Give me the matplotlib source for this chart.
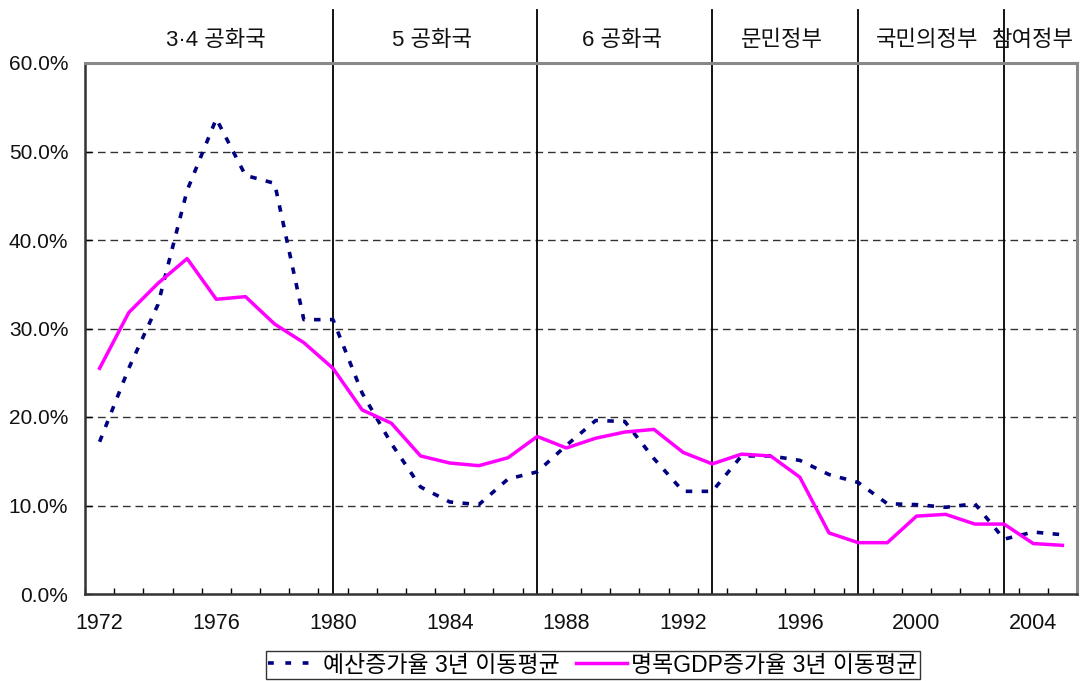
import matplotlib
matplotlib.use("Agg")
import matplotlib.pyplot as plt
from matplotlib.ticker import FixedLocator, FuncFormatter
from matplotlib.lines import Line2D

plt.rcParams['font.family'] = ['Liberation Sans', 'Noto Sans CJK KR', 'DejaVu Sans']

# ---- data ----
years = list(range(1972, 2006))
budget = [17.2, 25.5, 32.7, 45.6, 53.7, 47.3, 46.4, 31.0, 31.0, 22.7,
          17.0, 12.1, 10.4, 10.1, 13.0, 13.8, 16.8, 19.6, 19.5, 15.3,
          11.6, 11.6, 15.6, 15.6, 15.1, 13.5, 12.6, 10.2, 10.1, 9.8,
          10.2, 6.2, 7.0, 6.7]
gdp = [25.5, 31.8, 35.1, 37.9, 33.3, 33.6, 30.5, 28.4, 25.5, 20.8,
       19.3, 15.6, 14.8, 14.5, 15.4, 17.8, 16.5, 17.6, 18.3, 18.6,
       16.0, 14.7, 15.8, 15.6, 13.2, 6.9, 5.8, 5.8, 8.8, 9.0,
       7.9, 7.9, 5.7, 5.5]
period_starts = [1980, 1987, 1993, 1998, 2003]
period_labels = ['3·4 공화국', '5 공화국', '6 공화국', '문민정부', '국민의정부', '참여정부']
period_label_x = [1976.0, 1983.4, 1989.9, 1995.4, 2000.35, 2004.0]
year_labels = [1972, 1976, 1980, 1984, 1988, 1992, 1996, 2000, 2004]
y_ticks = [0, 10, 20, 30, 40, 50, 60]
series_names = ['예산증가율 3년 이동평균', '명목GDP증가율 3년 이동평균']

MIXED = ['Liberation Sans', 'Noto Sans CJK KR', 'DejaVu Sans']

# ---- figure ----
W, H = 1080, 681
fig = plt.figure(figsize=(W / 100, H / 100), dpi=100)
ax = fig.add_axes([85 / W, 87 / H, (1077 - 85) / W, (594 - 63) / H])

ax.set_xlim(1971.5, 2005.5)
ax.set_ylim(0, 60)

# gridlines
for v in y_ticks[1:-1]:
    ax.axhline(v, color='#333333', lw=1.0, dashes=(5.5, 3.5), zorder=1)

# period dividers (extend above axes)
for x in period_starts:
    ax.axvline(x, ymin=0, ymax=1 + 53 / 531, color='black', lw=1.3,
               clip_on=False, zorder=2)

ax.plot(years, budget, color='#000080', lw=2.6, dashes=(1.8, 2.6),
        dash_capstyle='butt', zorder=3)
ax.plot(years, gdp, color='#FF00FF', lw=2.5, zorder=4)

# period labels
for lab, x in zip(period_labels, period_label_x):
    ax.text(x, 1 + 22 / 531, lab, transform=ax.get_xaxis_transform(),
            ha='center', va='center', fontsize=16,
            family=MIXED, color='#111111')

# ticks
ax.xaxis.set_major_locator(FixedLocator(year_labels))
ax.xaxis.set_minor_locator(FixedLocator([y - 0.5 for y in years] + [2005.5]))
ax.tick_params(axis='x', which='major', length=0, pad=14, labelsize=15.5,
               labelcolor='#111111')
ax.tick_params(axis='x', which='minor', direction='in', length=4, width=1,
               color='black')
ax.yaxis.set_major_locator(FixedLocator(y_ticks))
ax.yaxis.set_major_formatter(FuncFormatter(lambda v, p: f'{v:.1f}%'))
ax.tick_params(axis='y', which='major', direction='in', length=5, width=1,
               pad=12, labelsize=15, labelcolor='#111111')

for s in ['top', 'right']:
    ax.spines[s].set_color('#888888')
    ax.spines[s].set_linewidth(2.2)
for s in ['left', 'bottom']:
    ax.spines[s].set_color('#333333')
    ax.spines[s].set_linewidth(1.8)

handles = [Line2D([], [], color='#000080', lw=2.6, dashes=(1.6, 3.2),
                  dash_capstyle='butt'),
           Line2D([], [], color='#FF00FF', lw=2.5)]
leg = fig.legend(handles, series_names, loc='center',
                 bbox_to_anchor=(593 / W, 1 - 665 / H), ncol=2,
                 frameon=True, fancybox=False, shadow=False,
                 prop={'family': MIXED, 'size': 16.5},
                 handlelength=2.2, handletextpad=0.2, columnspacing=0.7,
                 borderpad=0.1, borderaxespad=0)
leg.get_frame().set_edgecolor('black')
leg.get_frame().set_linewidth(1.0)

fig.savefig('out.png', dpi=100)
